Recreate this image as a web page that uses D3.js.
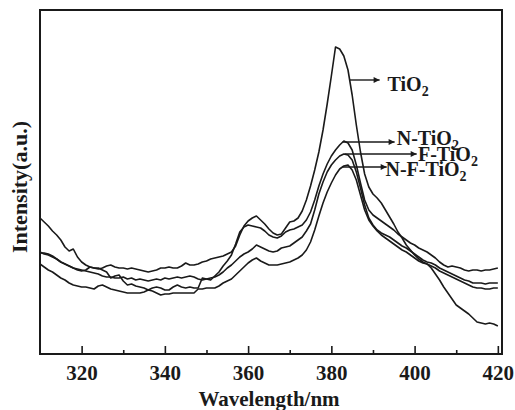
<!DOCTYPE html>
<html><head><meta charset="utf-8">
<script src="https://cdn.jsdelivr.net/npm/d3@7"></script>
<style>
html,body{margin:0;padding:0;background:#fff;}
svg{display:block;}
</style></head>
<body>
<svg id="chart" width="515" height="410"></svg>
<script>
// ---- data (wavelength 310..420 nm, 1 nm step; intensity in a.u.) ----
const wavelengths = d3.range(310, 421);
const seriesNames = ["TiO2", "N-TiO2", "F-TiO2", "N-F-TiO2"];
const tio2 = [136,132,128,123,119,114,107,103,105,97,
  92,89,87,86,85,86,88,89,87,86,
  86,85,86,85,84,83,82,83,84,86,
  86,87,86,86,88,91,89,89,90,92,
  93,95,96,97,98,100,102,108,119,128,
  133,136,138,134,130,125,121,119,120,126,
  132,133,136,143,154,168,184,202,224,250,
  278,307,305,298,284,259,229,202,180,167,
  160,156,151,144,137,130,122,116,109,104,
  99,95,92,90,86,80,74,67,61,55,
  49,46,43,40,36,32,31,30,31,30,
  28];
const nTio2 = [101,101,100,98,95,92,90,88,86,84,
  83,84,87,86,86,84,82,76,78,79,
  73,69,70,68,67,66,64,66,67,66,
  64,64,67,69,67,66,67,66,66,76,
  75,74,78,82,88,93,99,110,122,127,
  129,128,127,126,123,119,117,116,118,122,
  124,125,127,129,134,142,154,168,180,190,
  198,204,209,213,211,204,189,171,154,144,
  139,136,133,130,127,124,120,117,114,111,
  109,106,104,102,99,96,92,89,87,88,
  87,86,84,83,84,84,83,84,84,85,
  86];
const fTio2 = [102,100,99,97,95,92,90,88,86,85,
  84,83,82,81,80,78,77,77,76,76,
  77,75,76,74,75,74,73,74,75,74,
  76,75,76,77,76,77,78,77,75,74,
  75,76,77,79,82,86,89,93,97,100,
  102,105,109,107,105,103,102,103,106,107,
  108,111,114,117,123,130,144,160,172,182,
  189,194,198,200,199,194,182,166,149,136,
  129,124,121,119,117,114,111,108,106,103,
  100,97,94,92,91,89,86,84,82,80,
  78,76,74,73,71,71,71,70,71,71,
  71];
const nfTio2 = [90,87,84,82,79,76,74,71,69,68,
  67,67,66,65,68,69,67,65,64,63,
  62,61,61,61,61,62,64,63,61,59,
  60,60,61,61,61,61,61,61,65,65,
  66,66,66,68,71,73,75,79,83,87,
  91,94,96,93,91,89,89,89,90,91,
  92,94,96,99,104,112,124,138,151,162,
  171,179,185,188,189,184,174,159,144,134,
  128,123,119,116,113,110,107,104,102,99,
  96,93,91,90,88,86,83,81,79,77,
  75,73,71,69,67,66,66,65,65,66,
  66];
const seriesValues = [tio2, nTio2, fTio2, nfTio2];
const xTicks = [320, 340, 360, 380, 400, 420];
const xMinorTicks = [330, 350, 370, 390, 410];

// ---- layout ----
const FONT = "'Liberation Serif', 'Times New Roman', Times, 'DejaVu Serif', serif";
const svg = d3.select("#chart");
const L = 40, R = 502, T = 10, B = 354;
const x = d3.scaleLinear().domain([310, 421]).range([L, R]);
const y = d3.scaleLinear().domain([0, 344]).range([B, T]);
const ink = "#1a1a1a";

const defs = svg.append("defs");
defs.append("clipPath").attr("id", "clip")
  .append("rect").attr("x", L).attr("y", T).attr("width", R - L).attr("height", B - T);
defs.append("marker").attr("id", "arrow").attr("viewBox", "0 0 10 10")
  .attr("refX", 10).attr("refY", 5).attr("markerWidth", 8).attr("markerHeight", 6)
  .attr("markerUnits", "userSpaceOnUse").attr("orient", "auto")
  .append("path").attr("d", "M0,0L10,5L0,10z").attr("fill", ink);

// curves
const line = d3.line().x((d, i) => x(wavelengths[i])).y(d => y(d));
svg.append("g").attr("clip-path", "url(#clip)")
  .selectAll("path").data(seriesValues).join("path")
  .attr("d", d => line(d)).attr("fill", "none").attr("stroke", ink)
  .attr("stroke-width", 1.6).attr("stroke-linejoin", "round");

// bottom axis with inward ticks
const xAxis = d3.axisBottom(x).tickValues(xTicks).tickSize(-8).tickPadding(20).tickFormat(d3.format("d"));
const gx = svg.append("g").attr("transform", `translate(0,${B})`).call(xAxis)
  .attr("font-family", FONT).attr("font-size", 21).attr("font-weight", "bold");
gx.select(".domain").remove();
gx.selectAll(".tick line").attr("stroke", ink).attr("stroke-width", 1.6);
gx.selectAll(".tick text").attr("fill", ink).attr("dy", "0.3em");
const xMinor = d3.axisBottom(x).tickValues(xMinorTicks).tickSize(-4).tickFormat("");
const gxm = svg.append("g").attr("transform", `translate(0,${B})`).call(xMinor);
gxm.select(".domain").remove();
gxm.selectAll(".tick line").attr("stroke", ink).attr("stroke-width", 1.6);

// frame
svg.append("rect").attr("x", L).attr("y", T).attr("width", R - L).attr("height", B - T)
  .attr("fill", "none").attr("stroke", ink).attr("stroke-width", 2);

const txt = svg.append("g").attr("font-family", FONT).attr("font-weight", "bold").attr("fill", ink);
// axis titles
txt.append("text").attr("x", 269).attr("y", 406).attr("text-anchor", "middle")
  .attr("font-size", 21).text("Wavelength/nm");
txt.append("text").attr("transform", "translate(27,187) rotate(-90)").attr("text-anchor", "middle")
  .attr("font-size", 22).text("Intensity(a.u.)");

// annotations: arrow from curve to label
const notes = [
  {name: "TiO2",     from: [384.4, 274], to: 391.6, tx: 393.5, ty: 263},
  {name: "N-TiO2",   from: [382.7, 212], to: 395.2, tx: 395.7, ty: 209},
  {name: "F-TiO2",   from: [383.2, 200], to: 400.5, tx: 400.8, ty: 193},
  {name: "N-F-TiO2", from: [382.7, 187], to: 393.3, tx: 393.0, ty: 178}
];
notes.forEach(n => {
  svg.append("line").attr("x1", x(n.from[0])).attr("y1", y(n.from[1]))
    .attr("x2", x(n.to)).attr("y2", y(n.from[1]))
    .attr("stroke", ink).attr("stroke-width", 1.4).attr("marker-end", "url(#arrow)");
  const t = txt.append("text").attr("x", x(n.tx)).attr("y", y(n.ty)).attr("font-size", 20);
  t.append("tspan").text(n.name.slice(0, -1));
  t.append("tspan").attr("font-size", 14).attr("dy", 5).text("2");
});
</script>
</body></html>
